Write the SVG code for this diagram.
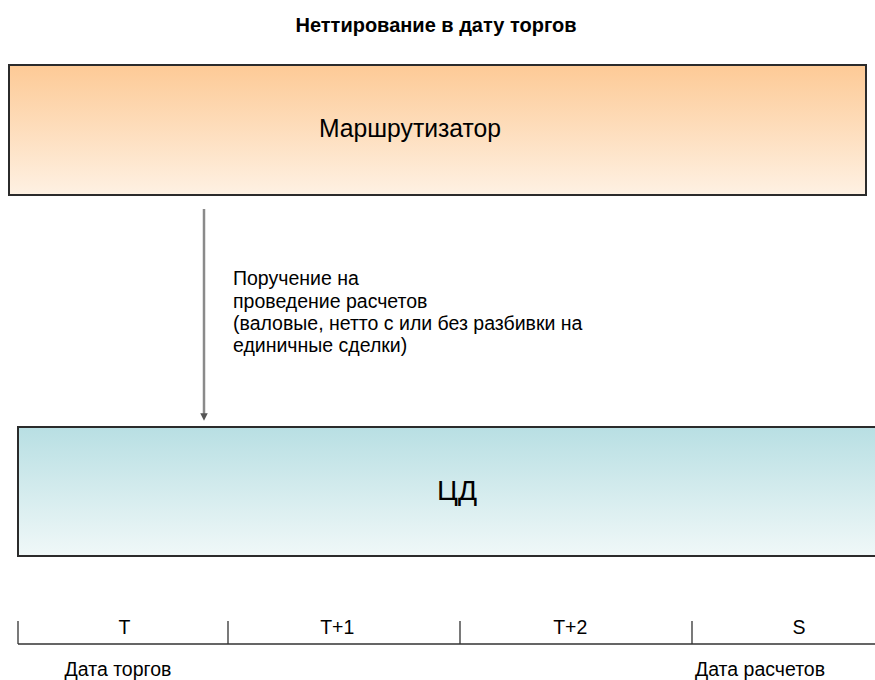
<svg xmlns="http://www.w3.org/2000/svg" width="875" height="680" viewBox="0 0 875 680">
  <style>
    .t { font-family: "Liberation Sans", Arial, sans-serif; fill: #000; }
    .box { stroke: #2b2b2b; stroke-width: 2; }
    .tick { stroke: #333; stroke-width: 1.3; fill: none; }
  </style>
  <defs>
    <linearGradient id="gOrange" x1="0" y1="0" x2="0" y2="1">
      <stop offset="0" stop-color="#fdca96"/>
      <stop offset="1" stop-color="#fef1e3"/>
    </linearGradient>
    <linearGradient id="gTeal" x1="0" y1="0" x2="0" y2="1">
      <stop offset="0" stop-color="#b8dfe3"/>
      <stop offset="1" stop-color="#f0f8f8"/>
    </linearGradient>
    <marker id="arrow" viewBox="0 0 10 10" refX="5" refY="5" markerWidth="3" markerHeight="3" orient="auto">
      <path d="M0,0 L10,5 L0,10 z" fill="#555"/>
    </marker>
  </defs>

  <text class="t" x="436" y="32" font-size="20" font-weight="bold" text-anchor="middle">Неттирование в дату торгов</text>

  <g id="router">
    <rect class="box" x="9" y="65" width="857" height="130" fill="url(#gOrange)"/>
    <text class="t" x="410" y="137" font-size="25" text-anchor="middle" textLength="182" lengthAdjust="spacingAndGlyphs">Маршрутизатор</text>
  </g>

  <g id="depository">
    <rect class="box" x="18" y="427" width="870" height="129" fill="url(#gTeal)"/>
    <text class="t" x="457" y="500" font-size="27" text-anchor="middle" textLength="40" lengthAdjust="spacingAndGlyphs">ЦД</text>
  </g>

  <g id="connectors">
    <line x1="204" y1="209" x2="204" y2="417" stroke="#8a8a8a" stroke-width="2.5" marker-end="url(#arrow)"/>
  </g>

  <g id="order-label">
    <text class="t" font-size="19.5">
      <tspan x="233" y="285">Поручение на</tspan>
      <tspan x="233" y="308">проведение расчетов</tspan>
      <tspan x="233" y="330">(валовые, нетто с или без разбивки на</tspan>
      <tspan x="233" y="352">единичные сделки)</tspan>
    </text>
  </g>

  <g id="timeline">
    <path class="tick" d="M18,644 H875 M18,621 V644 M228,621 V644 M460,621 V644 M692,621 V644"/>
    <text class="t" font-size="19.5" text-anchor="middle">
      <tspan x="127" y="634">T</tspan>
      <tspan x="340" y="634">T+1</tspan>
      <tspan x="573" y="634">T+2</tspan>
      <tspan x="799" y="634">S</tspan>
    </text>
    <text class="t" x="118" y="676" font-size="19.5" text-anchor="middle">Дата торгов</text>
    <text class="t" x="760" y="676" font-size="19.5" text-anchor="middle">Дата расчетов</text>
  </g>
</svg>
